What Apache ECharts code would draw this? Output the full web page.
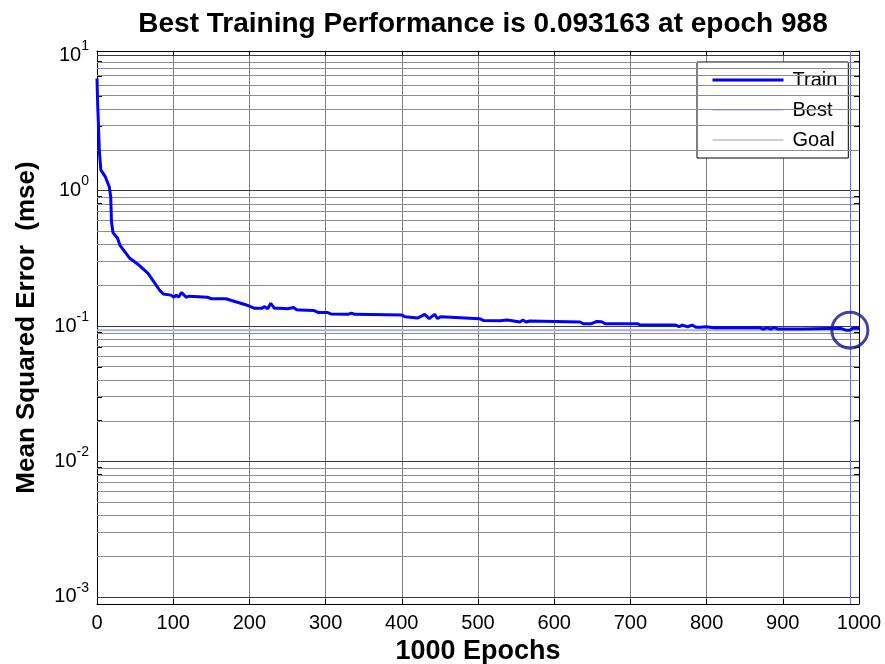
<!DOCTYPE html>
<html><head><meta charset="utf-8">
<script src="https://cdn.jsdelivr.net/npm/echarts@6/dist/echarts.min.js"></script>
<style>html,body{margin:0;padding:0;background:#fff}#c{width:885px;height:664px}</style>
</head><body><div id="c"></div>
<script>
const titleText = 'Best Training Performance is 0.093163 at epoch 988';
const xAxisName = '1000 Epochs';
const yAxisName = 'Mean Squared Error  (mse)';
const xTicks = [0, 100, 200, 300, 400, 500, 600, 700, 800, 900, 1000];
const yTickExps = [-3, -2, -1, 0, 1];
const minorMultipliers = [2, 3, 4, 5, 6, 7, 8, 9];
const legendNames = ['Train', 'Best', 'Goal'];
const trainEpochs = [0,1,2,3,5,11,16,18,19,21,27,30,43,55,67,82,87,97,101,104,107,111,117,121,145,150,169,182,196,207,216,220,224,228,233,240,250,258,262,266,285,290,302,307,329,334,338,400,404,421,430,436,443,447,451,453,502,507,529,538,545,555,559,563,568,634,638,649,656,662,667,669,673,709,713,759,764,768,775,781,786,792,799,810,869,875,879,884,889,894,900,924,976,982,988,992,1000];
const trainValues = [6.73,4.15,2.96,1.99,1.42,1.26,1.07,0.90,0.589,0.489,0.444,0.396,0.316,0.282,0.245,0.1845,0.172,0.169,0.163,0.169,0.163,0.177,0.163,0.166,0.163,0.159,0.159,0.151,0.143,0.135,0.135,0.139,0.134,0.147,0.135,0.135,0.134,0.137,0.132,0.131,0.130,0.126,0.126,0.1227,0.1220,0.1245,0.1220,0.1205,0.1172,0.1146,0.122,0.1135,0.122,0.1135,0.1172,0.1135,0.1133,0.110,0.1094,0.1106,0.1094,0.1071,0.1106,0.1071,0.109,0.1071,0.104,0.104,0.108,0.1075,0.104,0.1075,0.104,0.104,0.1016,0.1016,0.0988,0.1016,0.0988,0.1016,0.0978,0.0978,0.0988,0.0972,0.0972,0.0947,0.0972,0.095,0.0975,0.095,0.0951,0.0951,0.0962,0.0935,0.093163,0.0962,0.0962];
const bestEpoch = 988;
const bestValue = 0.093163;

const FONT = 'Liberation Sans, Arial, sans-serif';
const yMin = -3.052, yMax = 1.03;
const lg = Math.log10;

const majorLines = yTickExps.slice();
const minorLines = [];
yTickExps.slice(0, -1).forEach(e => minorMultipliers.forEach(m => minorLines.push(e + lg(m))));
const allTicks = majorLines.concat(minorLines);

const trainData = trainEpochs.map((e, i) => [e, lg(trainValues[i])]);

const labelFmt = v => '{b|10}{e|' + Math.round(v) + '}';
const richLabel = {
  b: {fontSize: 20, fontFamily: FONT, color: '#000', lineHeight: 20, verticalAlign: 'bottom'},
  e: {fontSize: 14, fontFamily: FONT, color: '#000', lineHeight: 14, verticalAlign: 'bottom', padding: [0, 0, 12, 0]}
};

const chart = echarts.init(document.getElementById('c'), null, {renderer: 'canvas'});
chart.setOption({
  animation: false,
  backgroundColor: '#fff',
  title: {
    text: titleText, left: 478, top: 5, textAlign: 'center',
    textStyle: {fontFamily: FONT, fontSize: 28, fontWeight: 'bold', color: '#000'}
  },
  legend: {
    data: [
      {name: 'Train', lineStyle: {width: 3}},
      {name: 'Best', lineStyle: {width: 1}},
      {name: 'Goal', lineStyle: {width: 1}}
    ],
    orient: 'vertical', left: 697, top: 62,
    backgroundColor: '#fff', borderColor: '#000', borderWidth: 1, borderRadius: 0,
    padding: [8, 11, 8, 14], itemWidth: 71, itemHeight: 14, itemGap: 10,
    itemStyle: {opacity: 0},
    textStyle: {fontFamily: FONT, fontSize: 20, color: '#000', padding: [0, 0, 0, 4]}
  },
  grid: {left: 97, right: 26, top: 51, bottom: 60, containLabel: false, outerBoundsMode: 'none'},
  xAxis: [{
    type: 'value', min: 0, max: 1000, interval: 100, position: 'bottom',
    name: xAxisName, nameLocation: 'middle', nameGap: 29,
    nameTextStyle: {fontFamily: FONT, fontSize: 27, fontWeight: 'bold', color: '#000'},
    axisLine: {show: true, onZero: false, lineStyle: {color: '#000', width: 1}},
    axisTick: {show: true, inside: true, length: 5, lineStyle: {color: '#000'}},
    axisLabel: {fontFamily: FONT, fontSize: 20, color: '#000', margin: 9, formatter: v => String(v)},
    splitLine: {show: true, lineStyle: {color: '#808080', width: 1}}
  }, {
    type: 'value', min: 0, max: 1000, interval: 100, position: 'top',
    axisLine: {show: true, onZero: false, lineStyle: {color: '#000', width: 1}},
    axisTick: {show: true, inside: true, length: 5, lineStyle: {color: '#000'}},
    axisLabel: {show: false}, splitLine: {show: false}
  }],
  yAxis: [{
    type: 'value', min: yMin, max: yMax, position: 'left',
    name: yAxisName, nameLocation: 'middle', nameGap: 57, nameRotate: 90,
    nameTextStyle: {fontFamily: FONT, fontSize: 26, fontWeight: 'bold', color: '#000'},
    axisLine: {show: true, onZero: false, lineStyle: {color: '#000', width: 1}},
    axisTick: {show: true, inside: true, length: 5, customValues: allTicks, lineStyle: {color: '#000'}},
    axisLabel: {customValues: yTickExps, formatter: labelFmt, rich: richLabel, margin: 8},
    splitLine: {show: false}
  }, {
    type: 'value', min: yMin, max: yMax, position: 'right',
    axisLine: {show: true, onZero: false, lineStyle: {color: '#000', width: 1}},
    axisTick: {show: true, inside: true, length: 5, customValues: allTicks, lineStyle: {color: '#000'}},
    axisLabel: {show: false}, splitLine: {show: false}
  }],
  series: [{
    name: 'gridlines', type: 'line', data: [], silent: true, z: 1,
    markLine: {
      silent: true, symbol: 'none', label: {show: false}, animation: false,
      data: minorLines.map(v => ({yAxis: v, lineStyle: {color: '#8c8c8c', width: 1, type: 'solid'}}))
        .concat(majorLines.map(v => ({yAxis: v, lineStyle: {color: '#3a3a3a', width: 1, type: 'solid'}})))
    }
  }, {
    name: 'Best', type: 'line', symbol: 'none', z: 3, silent: true,
    data: [[0, lg(bestValue)], [1000, lg(bestValue)]],
    lineStyle: {color: '#a8b0ee', width: 2}, itemStyle: {color: '#a8b0ee'},
    markLine: {
      silent: true, symbol: 'none', label: {show: false}, animation: false,
      data: [{xAxis: bestEpoch, lineStyle: {color: '#6a6aff', width: 1, type: 'solid'}}]
    }
  }, {
    name: 'Goal', type: 'line', symbol: 'none', z: 3, data: [],
    lineStyle: {color: '#a0a0a0', width: 1}, itemStyle: {color: '#a0a0a0'}
  }, {
    name: 'Train', type: 'line', symbol: 'none', z: 5, data: trainData,
    lineStyle: {color: '#0000ff', width: 3}, itemStyle: {color: '#0000ff'}
  }, {
    name: 'bestCircle', type: 'scatter', z: 6, symbol: 'circle', symbolSize: 36,
    data: [[bestEpoch, lg(bestValue)]],
    itemStyle: {color: 'rgba(0,0,0,0)', borderColor: '#14148c', borderWidth: 3}
  }]
});
</script></body></html>
